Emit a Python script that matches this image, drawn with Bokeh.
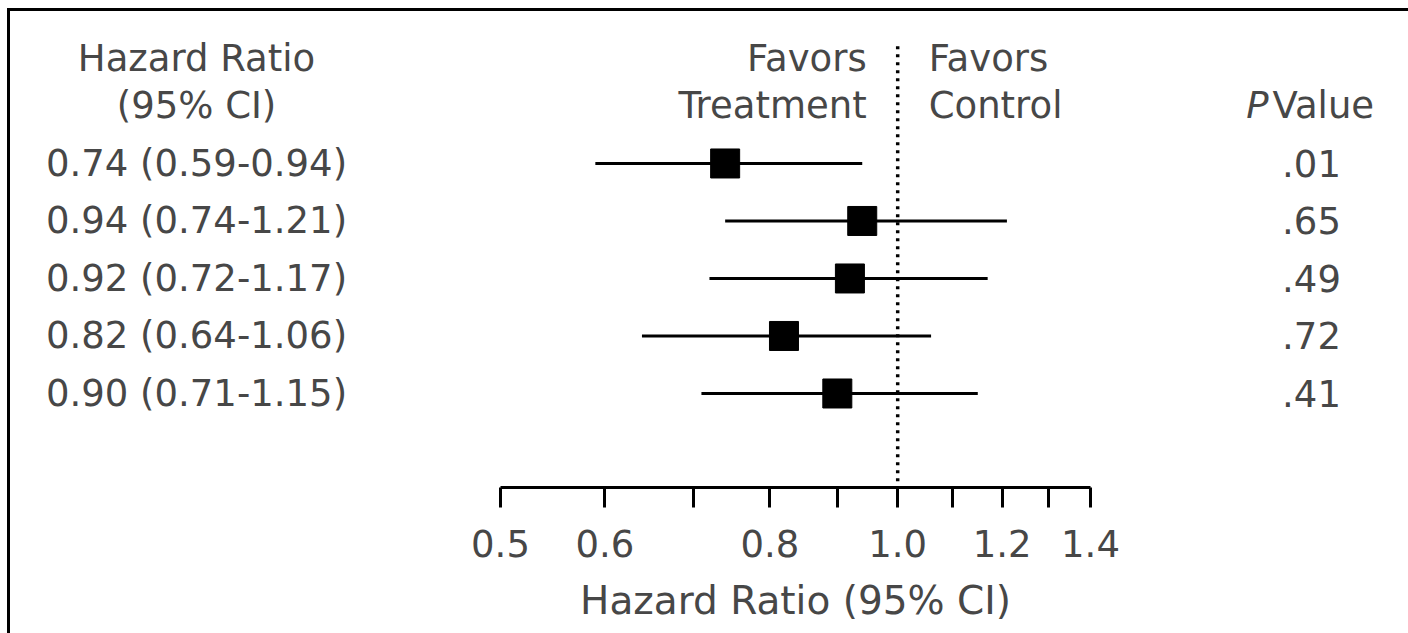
from bokeh.plotting import figure
from bokeh.models import Range1d, FixedTicker, NumeralTickFormatter, ColumnDataSource, Div
from bokeh.layouts import row, column
from bokeh.core.properties import value
from bokeh.embed import file_html
from bokeh.resources import INLINE

# ---- data -------------------------------------------------------------
hazard_ratio = [0.74, 0.94, 0.92, 0.82, 0.90]
ci_low = [0.59, 0.74, 0.72, 0.64, 0.71]
ci_high = [0.94, 1.21, 1.17, 1.06, 1.15]
p_values = [".01", ".65", ".49", ".72", ".41"]
rows = [1, 2, 3, 4, 5]

major_ticks = [0.5, 0.6, 0.8, 1.0, 1.2, 1.4]
minor_ticks = [0.7, 0.9, 1.1, 1.3]

ci_text = [f"{h:.2f} ({lo:.2f}-{hi:.2f})" for h, lo, hi in zip(hazard_ratio, ci_low, ci_high)]

# ---- shared layout settings --------------------------------------------
FONT = value("DejaVu Sans")
TEXT_COLOR = "#474747"
FS = "37px"
H = 620
BORDER_BOTTOM = 144
HEADER_Y = [-0.83, 0.0]          # two header lines above the first row
LINE_TOP = -1.04                  # top of the dotted null line

y_range = Range1d(6.635, -1.643)  # reversed: row 1 at the top

W_LEFT, W_MID, W_RIGHT = 372, 778, 248


def table_panel(width):
    f = figure(width=width, height=H, x_range=Range1d(0, width), y_range=y_range,
               output_backend="svg", toolbar_location=None,
               x_axis_location=None, y_axis_location=None,
               min_border_left=0, min_border_right=0,
               min_border_top=0, min_border_bottom=BORDER_BOTTOM)
    f.grid.visible = False
    f.outline_line_color = None
    return f


# ---- left table: hazard ratio (95% CI) ---------------------------------
left = table_panel(W_LEFT)
left.text(x=[186, 186], y=HEADER_Y, text=["Hazard Ratio", "(95% CI)"],
          text_font=FONT, text_font_size=FS, text_color=TEXT_COLOR,
          text_align="center", text_baseline="middle")
left.text(x=[186] * len(rows), y=rows, text=ci_text,
          text_font=FONT, text_font_size=FS, text_color=TEXT_COLOR,
          text_align="center", text_baseline="middle")

# ---- forest plot -------------------------------------------------------
mid = figure(width=W_MID, height=H, x_axis_type="log",
             x_range=Range1d(0.5, 1.4), y_range=y_range,
             output_backend="svg", toolbar_location=None,
             y_axis_location=None,
             min_border_left=118, min_border_right=70,
             min_border_top=0, min_border_bottom=BORDER_BOTTOM)
mid.grid.visible = False
mid.outline_line_color = None

src = ColumnDataSource(dict(hr=hazard_ratio, lo=ci_low, hi=ci_high, y=rows))

# null line at HR = 1
mid.line(x=[1.0, 1.0], y=[LINE_TOP, y_range.start], line_color="black",
         line_width=3.5, line_dash="3 5")

mid.segment(x0="lo", x1="hi", y0="y", y1="y", source=src,
            line_color="black", line_width=3)
mid.scatter(x="hr", y="y", source=src, marker="square", size=29,
            fill_color="black", line_color="black")

mid.text(x=[1.0, 1.0], y=HEADER_Y, text=["Favors", "Treatment"],
         x_offset=-31, text_font=FONT, text_font_size=FS,
         text_color=TEXT_COLOR, text_align="right", text_baseline="middle")
mid.text(x=[1.0, 1.0], y=HEADER_Y, text=["Favors", "Control"],
         x_offset=31, text_font=FONT, text_font_size=FS,
         text_color=TEXT_COLOR, text_align="left", text_baseline="middle")

ax = mid.xaxis[0]
ax.ticker = FixedTicker(ticks=major_ticks, minor_ticks=minor_ticks)
ax.formatter = NumeralTickFormatter(format="0.0")
ax.axis_line_width = 3
ax.major_tick_line_width = 3
ax.minor_tick_line_width = 3
ax.major_tick_in = 0
ax.minor_tick_in = 0
ax.major_tick_out = 20
ax.minor_tick_out = 20
ax.major_label_standoff = 22
ax.major_label_text_font = "DejaVu Sans"
ax.major_label_text_font_size = FS
ax.major_label_text_color = TEXT_COLOR
ax.axis_label = "Hazard Ratio (95% CI)"
ax.axis_label_standoff = 18
ax.axis_label_text_font = "DejaVu Sans"
ax.axis_label_text_font_size = "39px"
ax.axis_label_text_font_style = "normal"
ax.axis_label_text_color = TEXT_COLOR

# ---- right table: P values ---------------------------------------------
right = table_panel(W_RIGHT)
right.text(x=[108], y=[HEADER_Y[1]], text=["P"],
           text_font=FONT, text_font_size=FS, text_font_style="italic",
           text_color=TEXT_COLOR, text_align="right", text_baseline="middle")
right.text(x=[112], y=[HEADER_Y[1]], text=["Value"],
           text_font=FONT, text_font_size=FS,
           text_color=TEXT_COLOR, text_align="left", text_baseline="middle")
right.text(x=[151] * len(rows), y=rows, text=p_values,
           text_font=FONT, text_font_size=FS, text_color=TEXT_COLOR,
           text_align="center", text_baseline="middle")

# ---- open box: rules along the top and left edges ------------------------
box = Div(width=1, height=1, text=(
    '<div style="position:fixed; left:7px; top:8px; width:1600px; height:900px; '
    'border-top:3px solid black; border-left:3px solid black; '
    'pointer-events:none;"></div>'))

p = column(row(left, mid, right), box, margin=(11, 0, 0, 10))

open("out.html", "w").write(file_html(p, INLINE))
